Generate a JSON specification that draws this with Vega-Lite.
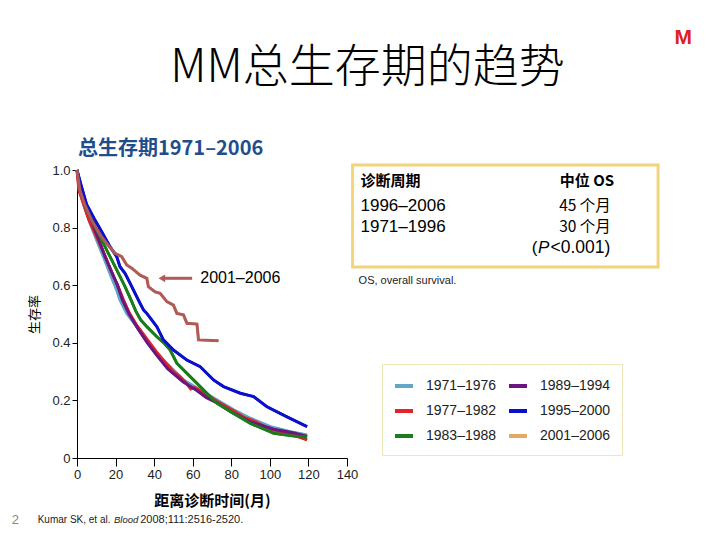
{
  "$schema": "https://vega.github.io/schema/vega-lite/v6.json",
  "width": 270,
  "height": 288,
  "autosize": {"type": "none"},
  "padding": {"left": 77, "top": 170, "right": 373, "bottom": 82},
  "background": "white",
  "config": {
    "view": {"stroke": null},
    "axis": {"grid": false, "labelFont": "Liberation Sans", "labelFontSize": 13, "labelColor": "#222", "labelPadding": 2,
      "domainColor": "black", "tickColor": "black", "labelOverlap": false, "titleColor": "black", "titleFont": "Noto Sans CJK SC"},
    "axisX": {"tickCount": 8, "tickSize": 8, "labelFlush": false},
    "axisY": {"tickCount": 6, "tickSize": 5},
    "legend": {
      "orient": "none", "legendX": 305, "legendY": 194, "columns": 2, "direction": "vertical",
      "symbolType": "stroke", "symbolStrokeWidth": 4, "symbolSize": 324,
      "labelFontSize": 14, "labelFont": "Liberation Sans", "labelColor": "#222",
      "strokeColor": "#EFE6B8", "fillColor": "white", "padding": 11,
      "rowPadding": 6, "columnPadding": 4, "labelOffset": 11
    }
  },
  "datasets": {
    "curves": [
    {"period": "1971–1976", "t": 0, "s": 1}, {"period": "1971–1976", "t": 1, "s": 0.95}, {"period": "1971–1976", "t": 3.3, "s": 0.884}, {"period": "1971–1976", "t": 6.8, "s": 0.815}, {"period": "1971–1976", "t": 10.2, "s": 0.757}, {"period": "1971–1976", "t": 13.7, "s": 0.699}, {"period": "1971–1976", "t": 17.1, "s": 0.641}, {"period": "1971–1976", "t": 20.6, "s": 0.583}, {"period": "1971–1976", "t": 22.3, "s": 0.549}, {"period": "1971–1976", "t": 25.8, "s": 0.502}, {"period": "1971–1976", "t": 31, "s": 0.456}, {"period": "1971–1976", "t": 36.2, "s": 0.41}, {"period": "1971–1976", "t": 41.4, "s": 0.363}, {"period": "1971–1976", "t": 48.3, "s": 0.317}, {"period": "1971–1976", "t": 55.2, "s": 0.271}, {"period": "1971–1976", "t": 63.9, "s": 0.236}, {"period": "1971–1976", "t": 72.6, "s": 0.201}, {"period": "1971–1976", "t": 81.2, "s": 0.167}, {"period": "1971–1976", "t": 89.9, "s": 0.138}, {"period": "1971–1976", "t": 100.3, "s": 0.109}, {"period": "1971–1976", "t": 110.6, "s": 0.091}, {"period": "1971–1976", "t": 119.3, "s": 0.08},
    {"period": "1977–1982", "t": 0, "s": 1}, {"period": "1977–1982", "t": 1, "s": 0.93}, {"period": "1977–1982", "t": 3, "s": 0.89}, {"period": "1977–1982", "t": 6, "s": 0.83}, {"period": "1977–1982", "t": 10, "s": 0.77}, {"period": "1977–1982", "t": 14, "s": 0.71}, {"period": "1977–1982", "t": 18, "s": 0.645}, {"period": "1977–1982", "t": 21, "s": 0.6}, {"period": "1977–1982", "t": 24, "s": 0.55}, {"period": "1977–1982", "t": 27, "s": 0.505}, {"period": "1977–1982", "t": 31, "s": 0.46}, {"period": "1977–1982", "t": 36, "s": 0.415}, {"period": "1977–1982", "t": 41, "s": 0.37}, {"period": "1977–1982", "t": 46, "s": 0.33}, {"period": "1977–1982", "t": 50, "s": 0.3}, {"period": "1977–1982", "t": 53, "s": 0.285}, {"period": "1977–1982", "t": 56, "s": 0.265}, {"period": "1977–1982", "t": 59, "s": 0.24}, {"period": "1977–1982", "t": 61, "s": 0.245}, {"period": "1977–1982", "t": 66, "s": 0.225}, {"period": "1977–1982", "t": 73, "s": 0.195}, {"period": "1977–1982", "t": 81, "s": 0.165}, {"period": "1977–1982", "t": 87, "s": 0.14}, {"period": "1977–1982", "t": 90, "s": 0.133}, {"period": "1977–1982", "t": 93, "s": 0.125}, {"period": "1977–1982", "t": 100, "s": 0.1}, {"period": "1977–1982", "t": 110, "s": 0.085}, {"period": "1977–1982", "t": 119.3, "s": 0.063},
    {"period": "1989–1994", "t": 0, "s": 1}, {"period": "1989–1994", "t": 2, "s": 0.93}, {"period": "1989–1994", "t": 5, "s": 0.87}, {"period": "1989–1994", "t": 9, "s": 0.8}, {"period": "1989–1994", "t": 14.5, "s": 0.7}, {"period": "1989–1994", "t": 18, "s": 0.645}, {"period": "1989–1994", "t": 21, "s": 0.6}, {"period": "1989–1994", "t": 23.5, "s": 0.55}, {"period": "1989–1994", "t": 27, "s": 0.5}, {"period": "1989–1994", "t": 31.5, "s": 0.45}, {"period": "1989–1994", "t": 36.5, "s": 0.4}, {"period": "1989–1994", "t": 41, "s": 0.36}, {"period": "1989–1994", "t": 47, "s": 0.31}, {"period": "1989–1994", "t": 55, "s": 0.265}, {"period": "1989–1994", "t": 62, "s": 0.235}, {"period": "1989–1994", "t": 67, "s": 0.21}, {"period": "1989–1994", "t": 73, "s": 0.19}, {"period": "1989–1994", "t": 80, "s": 0.16}, {"period": "1989–1994", "t": 90, "s": 0.125}, {"period": "1989–1994", "t": 102, "s": 0.1}, {"period": "1989–1994", "t": 112, "s": 0.088}, {"period": "1989–1994", "t": 119.3, "s": 0.075},
    {"period": "1983–1988", "t": 0, "s": 1}, {"period": "1983–1988", "t": 1.6, "s": 0.942}, {"period": "1983–1988", "t": 5, "s": 0.861}, {"period": "1983–1988", "t": 10.2, "s": 0.792}, {"period": "1983–1988", "t": 15.4, "s": 0.722}, {"period": "1983–1988", "t": 20.6, "s": 0.653}, {"period": "1983–1988", "t": 24.9, "s": 0.595}, {"period": "1983–1988", "t": 28, "s": 0.549}, {"period": "1983–1988", "t": 30.5, "s": 0.51}, {"period": "1983–1988", "t": 33, "s": 0.48}, {"period": "1983–1988", "t": 36.2, "s": 0.456}, {"period": "1983–1988", "t": 41.4, "s": 0.421}, {"period": "1983–1988", "t": 45, "s": 0.4}, {"period": "1983–1988", "t": 48.3, "s": 0.375}, {"period": "1983–1988", "t": 51.8, "s": 0.329}, {"period": "1983–1988", "t": 57, "s": 0.294}, {"period": "1983–1988", "t": 63.9, "s": 0.248}, {"period": "1983–1988", "t": 72.6, "s": 0.19}, {"period": "1983–1988", "t": 81.2, "s": 0.155}, {"period": "1983–1988", "t": 89.9, "s": 0.12}, {"period": "1983–1988", "t": 102, "s": 0.086}, {"period": "1983–1988", "t": 112.4, "s": 0.076}, {"period": "1983–1988", "t": 119.3, "s": 0.072},
    {"period": "1995–2000", "t": 0, "s": 1}, {"period": "1995–2000", "t": 2, "s": 0.95}, {"period": "1995–2000", "t": 5, "s": 0.88}, {"period": "1995–2000", "t": 9, "s": 0.83}, {"period": "1995–2000", "t": 12.8, "s": 0.786}, {"period": "1995–2000", "t": 17.1, "s": 0.734}, {"period": "1995–2000", "t": 20.6, "s": 0.699}, {"period": "1995–2000", "t": 22.3, "s": 0.664}, {"period": "1995–2000", "t": 24.9, "s": 0.641}, {"period": "1995–2000", "t": 27.5, "s": 0.607}, {"period": "1995–2000", "t": 30.1, "s": 0.572}, {"period": "1995–2000", "t": 32.7, "s": 0.537}, {"period": "1995–2000", "t": 34.5, "s": 0.514}, {"period": "1995–2000", "t": 36.2, "s": 0.502}, {"period": "1995–2000", "t": 41.4, "s": 0.456}, {"period": "1995–2000", "t": 44.8, "s": 0.41}, {"period": "1995–2000", "t": 50, "s": 0.375}, {"period": "1995–2000", "t": 57, "s": 0.34}, {"period": "1995–2000", "t": 63.9, "s": 0.317}, {"period": "1995–2000", "t": 70.8, "s": 0.271}, {"period": "1995–2000", "t": 76, "s": 0.248}, {"period": "1995–2000", "t": 84.7, "s": 0.225}, {"period": "1995–2000", "t": 91.6, "s": 0.213}, {"period": "1995–2000", "t": 98.5, "s": 0.178}, {"period": "1995–2000", "t": 108.9, "s": 0.143}, {"period": "1995–2000", "t": 119.3, "s": 0.109},
    {"period": "2001–2006", "t": 0, "s": 1}, {"period": "2001–2006", "t": 1.5, "s": 0.93}, {"period": "2001–2006", "t": 4, "s": 0.88}, {"period": "2001–2006", "t": 8, "s": 0.82}, {"period": "2001–2006", "t": 12, "s": 0.775}, {"period": "2001–2006", "t": 15.4, "s": 0.745}, {"period": "2001–2006", "t": 19.7, "s": 0.711}, {"period": "2001–2006", "t": 23.2, "s": 0.699}, {"period": "2001–2006", "t": 25.8, "s": 0.67}, {"period": "2001–2006", "t": 28.4, "s": 0.659}, {"period": "2001–2006", "t": 32.7, "s": 0.635}, {"period": "2001–2006", "t": 36.2, "s": 0.624}, {"period": "2001–2006", "t": 37, "s": 0.595}, {"period": "2001–2006", "t": 40.5, "s": 0.577}, {"period": "2001–2006", "t": 43.1, "s": 0.572}, {"period": "2001–2006", "t": 46.6, "s": 0.543}, {"period": "2001–2006", "t": 50, "s": 0.531}, {"period": "2001–2006", "t": 51.8, "s": 0.502}, {"period": "2001–2006", "t": 55.2, "s": 0.497}, {"period": "2001–2006", "t": 57, "s": 0.468}, {"period": "2001–2006", "t": 62.2, "s": 0.465}, {"period": "2001–2006", "t": 63, "s": 0.41}, {"period": "2001–2006", "t": 73.4, "s": 0.407}
    ],
    "one": [{}]
  },
  "resolve": {"scale": {"color": "independent"}},
  "layer": [
    {
      "data": {"name": "curves"},
      "mark": {"type": "line", "strokeWidth": 2.5},
      "encoding": {
        "x": {"field": "t", "type": "quantitative",
          "scale": {"domain": [0, 140], "nice": false, "zero": false},
          "axis": {"values": [0, 20, 40, 60, 80, 100, 120, 140], "tickCount": 8,
            "title": "距离诊断时间(月)", "titleFontSize": 15, "titleFontWeight": "bold", "titlePadding": 12}},
        "y": {"field": "s", "type": "quantitative",
          "scale": {"domain": [0, 1], "nice": false, "zero": false},
          "axis": {"values": [0, 0.2, 0.4, 0.6, 0.8, 1.0], "tickCount": 6,
            "labelExpr": "datum.value == 0 ? '0' : format(datum.value, '.1f')",
            "title": "生存率", "titleFontSize": 13, "titleFontWeight": "normal", "titlePadding": 10}},
        "color": {"field": "period", "type": "nominal",
          "scale": {"domain": ["1971–1976", "1977–1982", "1983–1988", "1989–1994", "1995–2000", "2001–2006"],
                    "range": ["#62A8C6", "#E0242A", "#1A7D1A", "#6B1580", "#0A10CC", "#E6A865"]},
          "legend": {"title": null, "symbolStrokeWidth": 4}}
      }
    },
    {
      "data": {"name": "curves"},
      "mark": {"type": "line", "strokeWidth": 3},
      "encoding": {
        "x": {"field": "t", "type": "quantitative"},
        "y": {"field": "s", "type": "quantitative"},
        "color": {"field": "period", "type": "nominal",
          "scale": {"domain": ["1971–1976", "1977–1982", "1983–1988", "1989–1994", "1995–2000", "2001–2006"],
                    "range": ["#62A8C6", "#E0242A", "#1A7D1A", "#6B1580", "#0A10CC", "#B05A5A"]},
          "legend": null}
      }
    },
    {"data": {"name": "one"}, "mark": {"type": "rule", "color": "#B05A5A", "strokeWidth": 3},
     "encoding": {"x": {"datum": 45}, "x2": {"datum": 59.7}, "y": {"datum": 0.624}}},
    {"data": {"name": "one"}, "mark": {"type": "point", "shape": "triangle-left", "filled": true, "color": "#B05A5A", "size": 60, "opacity": 1},
     "encoding": {"x": {"datum": 44}, "y": {"datum": 0.624}}},
    {"data": {"name": "one"}, "mark": {"type": "text", "text": "2001–2006", "align": "left", "baseline": "middle", "font": "Liberation Sans", "fontSize": 16, "color": "black"},
     "encoding": {"x": {"datum": 63.9}, "y": {"datum": 0.626}}},
    {"data": {"name": "one"}, "mark": {"type": "rect", "fillOpacity": 0, "fill": "white", "stroke": "#F2D47C", "strokeWidth": 3},
     "encoding": {"x": {"datum": 142.9}, "x2": {"datum": 301.3}, "y": {"datum": 1.017}, "y2": {"datum": 0.663}}},
    {"data": {"name": "one"}, "mark": {"type": "text", "text": "诊断周期", "align": "left", "baseline": "middle", "font": "Noto Sans CJK SC", "fontSize": 15, "fontWeight": "bold", "color": "black"},
     "encoding": {"x": {"datum": 147}, "y": {"datum": 0.962}}},
    {"data": {"name": "one"}, "mark": {"type": "text", "text": "中位 OS", "align": "center", "baseline": "middle", "font": "Noto Sans CJK SC", "fontSize": 15, "fontWeight": "bold", "color": "black"},
     "encoding": {"x": {"datum": 264.4}, "y": {"datum": 0.962}}},
    {"data": {"name": "one"}, "mark": {"type": "text", "text": "1996–2006", "align": "left", "baseline": "middle", "font": "Liberation Sans", "fontSize": 17, "color": "black"},
     "encoding": {"x": {"datum": 147}, "y": {"datum": 0.875}}},
    {"data": {"name": "one"}, "mark": {"type": "text", "text": "1971–1996", "align": "left", "baseline": "middle", "font": "Liberation Sans", "fontSize": 17, "color": "black"},
     "encoding": {"x": {"datum": 147}, "y": {"datum": 0.802}}},
    {"data": {"name": "one"}, "mark": {"type": "text", "text": "45 个月", "align": "center", "baseline": "middle", "font": "Noto Sans CJK SC", "fontSize": 15.5, "color": "black"},
     "encoding": {"x": {"datum": 263.4}, "y": {"datum": 0.875}}},
    {"data": {"name": "one"}, "mark": {"type": "text", "text": "30 个月", "align": "center", "baseline": "middle", "font": "Noto Sans CJK SC", "fontSize": 15.5, "color": "black"},
     "encoding": {"x": {"datum": 263.4}, "y": {"datum": 0.802}}},
    {"data": {"name": "one"}, "mark": {"type": "text", "text": "(", "align": "left", "baseline": "middle", "font": "Liberation Sans", "fontSize": 17, "color": "black"},
     "encoding": {"x": {"datum": 235.8}, "y": {"datum": 0.729}}},
    {"data": {"name": "one"}, "mark": {"type": "text", "text": "P", "align": "left", "baseline": "middle", "font": "Liberation Sans", "fontSize": 17, "fontStyle": "italic", "color": "black"},
     "encoding": {"x": {"datum": 239.0}, "y": {"datum": 0.729}}},
    {"data": {"name": "one"}, "mark": {"type": "text", "text": "<0.001)", "align": "left", "baseline": "middle", "font": "Liberation Sans", "fontSize": 17.5, "color": "black"},
     "encoding": {"x": {"datum": 245.5}, "y": {"datum": 0.729}}},
    {"data": {"name": "one"}, "mark": {"type": "text", "text": "OS, overall survival.", "align": "left", "baseline": "middle", "font": "Liberation Sans", "fontSize": 11, "color": "#222"},
     "encoding": {"x": {"datum": 146}, "y": {"datum": 0.615}}},
    {"data": {"name": "one"}, "mark": {"type": "text", "text": "MM总生存期的趋势", "align": "center", "baseline": "middle", "font": "Noto Sans CJK SC", "fontSize": 46, "fontWeight": 300, "color": "black"},
     "encoding": {"x": {"datum": 150.6}, "y": {"datum": 1.354}}},
    {"data": {"name": "one"}, "mark": {"type": "text", "text": "M", "align": "center", "baseline": "middle", "font": "Liberation Sans", "fontSize": 21, "fontWeight": "bold", "color": "#E02020"},
     "encoding": {"x": {"datum": 314.3}, "y": {"datum": 1.458}}},
    {"data": {"name": "one"}, "mark": {"type": "text", "text": "总生存期1971–2006", "align": "left", "baseline": "middle", "font": "Noto Sans CJK SC", "fontSize": 20, "fontWeight": "bold", "color": "#1F4E8C"},
     "encoding": {"x": {"datum": 0.5}, "y": {"datum": 1.073}}},
    {"data": {"name": "one"}, "mark": {"type": "text", "text": "2", "align": "left", "baseline": "middle", "font": "Liberation Sans", "fontSize": 13, "color": "#888"},
     "encoding": {"x": {"datum": -33.8}, "y": {"datum": -0.215}}},
    {"data": {"name": "one"}, "mark": {"type": "text", "text": "Kumar SK, et al.", "align": "left", "baseline": "middle", "font": "Liberation Sans", "fontSize": 10, "color": "#222"},
     "encoding": {"x": {"datum": -20.4}, "y": {"datum": -0.215}}},
    {"data": {"name": "one"}, "mark": {"type": "text", "text": "Blood", "align": "left", "baseline": "middle", "font": "Liberation Sans", "fontSize": 9.5, "fontStyle": "italic", "color": "#222"},
     "encoding": {"x": {"datum": 19.2}, "y": {"datum": -0.215}}},
    {"data": {"name": "one"}, "mark": {"type": "text", "text": "2008;111:2516-2520.", "align": "left", "baseline": "middle", "font": "Liberation Sans", "fontSize": 11, "color": "#222"},
     "encoding": {"x": {"datum": 32.8}, "y": {"datum": -0.215}}}
  ]
}
